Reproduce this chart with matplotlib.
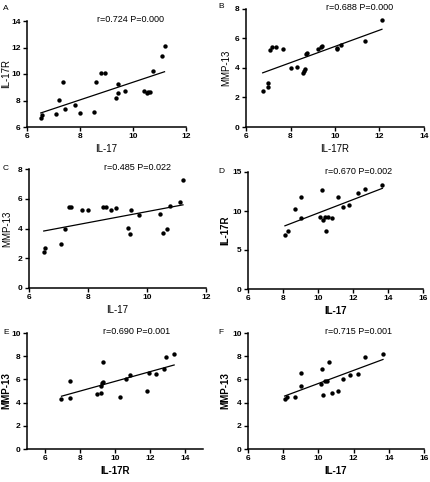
import numpy as np
import matplotlib
matplotlib.use("Agg")
import matplotlib.pyplot as plt

plt.rcParams['font.family'] = ['Liberation Sans', 'DejaVu Sans']

W, H = 430, 482

# Panel A: IL-17 vs IL-17R
a_x = [6.52, 6.55, 7.11, 7.21, 7.35, 7.44, 7.82, 7.99, 8.52, 8.60, 8.78, 8.93,
       9.37, 9.42, 9.45, 9.71, 10.42, 10.52, 10.58, 10.65, 10.76, 11.10, 11.19]
a_y = [6.71, 6.93, 6.96, 8.02, 9.36, 7.34, 7.64, 7.04, 7.16, 9.41, 10.07, 10.07,
       8.22, 8.58, 9.21, 8.70, 8.75, 8.58, 8.62, 8.65, 10.22, 11.35, 12.11]

# Panel B: IL-17R vs MMP-13
b_x = [6.75, 6.99, 6.99, 7.06, 7.18, 7.35, 7.67, 8.03, 8.27, 8.57, 8.60, 8.67,
       8.70, 8.75, 9.24, 9.35, 9.42, 10.08, 10.10, 10.25, 11.37, 12.11]
b_y = [2.41, 2.68, 2.97, 5.25, 5.43, 5.45, 5.29, 4.01, 4.08, 3.67, 3.78, 3.96,
       4.95, 5.02, 5.27, 5.43, 5.47, 5.29, 5.38, 5.59, 5.83, 7.27]

# Panel C: IL-17 vs MMP-13
c_x = [6.50, 6.55, 7.08, 7.22, 7.34, 7.43, 7.80, 8.00, 8.52, 8.62, 8.78, 8.94,
       9.37, 9.42, 9.45, 9.72, 10.44, 10.54, 10.67, 10.79, 11.13, 11.22]
c_y = [2.41, 2.67, 2.94, 3.96, 5.44, 5.44, 5.26, 5.24, 5.42, 5.42, 5.26, 5.37,
       4.04, 3.64, 5.24, 4.90, 4.99, 3.71, 3.96, 5.51, 5.80, 7.24]

# Panel D: IL-17 vs IL-17R
d_x = [8.11, 8.28, 8.66, 9.02, 9.02, 10.14, 10.24, 10.27, 10.38, 10.44, 10.57,
       10.82, 11.16, 11.43, 11.79, 12.26, 12.68, 13.68]
d_y = [6.92, 7.43, 10.23, 11.82, 9.15, 9.20, 12.72, 8.90, 9.24, 7.43, 9.24,
       9.15, 11.77, 10.53, 10.79, 12.25, 12.85, 13.28]

# Panel E: IL-17R vs MMP-13
e_x = [6.96, 7.43, 7.47, 8.99, 9.20, 9.22, 9.26, 9.29, 9.33, 10.28, 10.60,
       10.83, 11.84, 11.91, 12.34, 12.80, 12.92, 13.36]
e_y = [4.30, 4.41, 5.85, 4.70, 4.81, 5.47, 5.70, 7.54, 5.79, 4.47, 6.05,
       6.39, 5.04, 6.53, 6.45, 6.93, 7.97, 8.22]

# Panel F: IL-17 vs MMP-13
f_x = [8.08, 8.23, 8.67, 8.99, 8.99, 10.13, 10.22, 10.28, 10.39, 10.47, 10.60,
       10.79, 11.13, 11.42, 11.78, 12.25, 12.67, 13.67]
f_y = [4.30, 4.44, 4.47, 6.56, 5.44, 5.59, 6.93, 4.67, 5.82, 5.85, 7.54,
       4.84, 5.04, 6.07, 6.42, 6.45, 7.97, 8.22]

panels = [
    # letter, x, y, xlabel, ylabel, xlim, xticks, ylim, yticks, stats, bold labels,
    # box px (l, r, t, b), letter px, stats text px, ylabel x px
    ("A", a_x, a_y, "IL-17", "IL-17R", (6, 12), [6, 8, 10, 12], (6, 14), [6, 8, 10, 12, 14],
     "r=0.724 P=0.000", False, (27, 186, 21, 127), (3, 8), (97, 20), 6),
    ("B", b_x, b_y, "IL-17R", "MMP-13", (6, 14), [6, 8, 10, 12, 14], (0, 8), [0, 2, 4, 6, 8],
     "r=0.688 P=0.000", False, (246, 424, 9, 127), (218, 7), (326, 7), 226),
    ("C", c_x, c_y, "IL-17", "MMP-13", (6, 12), [6, 8, 10, 12], (0, 8), [0, 2, 4, 6, 8],
     "r=0.485 P=0.022", False, (29, 206, 169, 288), (3, 168), (104, 167), 7),
    ("D", d_x, d_y, "IL-17", "IL-17R", (6, 16), [6, 8, 10, 12, 14, 16], (0, 15), [0, 5, 10, 15],
     "r=0.670 P=0.002", True, (248, 423, 172, 289), (218, 171), (325, 171), 225),
    ("E", e_x, e_y, "IL-17R", "MMP-13", (5, 15), [6, 8, 10, 12, 14], (0, 10), [0, 2, 4, 6, 8, 10],
     "r=0.690 P=0.001", True, (27, 203, 333, 449), (3, 333), (103, 332), 6),
    ("F", f_x, f_y, "IL-17", "MMP-13", (6, 16), [6, 8, 10, 12, 14, 16], (0, 10), [0, 2, 4, 6, 8, 10],
     "r=0.715 P=0.001", True, (248, 424, 333, 449), (218, 333), (325, 332), 225),
]

fig = plt.figure(figsize=(W / 100, H / 100), dpi=100)

for (letter, x, y, xlab, ylab, xlim, xt, ylim, yt, stats, bold,
     box, lpos, tpos, ylx) in panels:
    l, r, t, b = box
    ax = fig.add_axes([l / W, 1 - b / H, (r - l) / W, (b - t) / H])
    ax.scatter(x, y, s=10, color="black", zorder=3, linewidths=0)
    k, c0 = np.polyfit(x, y, 1)
    xs = np.array([min(x), max(x)])
    ax.plot(xs, k * xs + c0, color="black", lw=0.9)
    ax.set_xlim(*xlim)
    ax.set_ylim(*ylim)
    ax.set_xticks(xt)
    ax.set_yticks(yt)
    for s in ["top", "right"]:
        ax.spines[s].set_visible(False)
    for s in ["left", "bottom"]:
        ax.spines[s].set_linewidth(1.1)
    ax.tick_params(direction="out", length=3, width=1, labelsize=6, pad=1.5)
    for lab in ax.get_xticklabels() + ax.get_yticklabels():
        lab.set_fontweight("bold")
    fw = "bold" if bold else "normal"
    ax.set_xlabel(xlab, fontsize=7, fontweight=fw, labelpad=3)
    ax.set_ylabel(ylab, fontsize=7, fontweight=fw, va="center")
    ax.yaxis.set_label_coords((ylx - l) / (r - l), 0.5)
    fig.text(lpos[0] / W, 1 - lpos[1] / H, letter, fontsize=6, va="center", ha="left")
    fig.text(tpos[0] / W, 1 - tpos[1] / H, stats, fontsize=6.5, va="center", ha="left")

fig.savefig("out.png", dpi=100)
